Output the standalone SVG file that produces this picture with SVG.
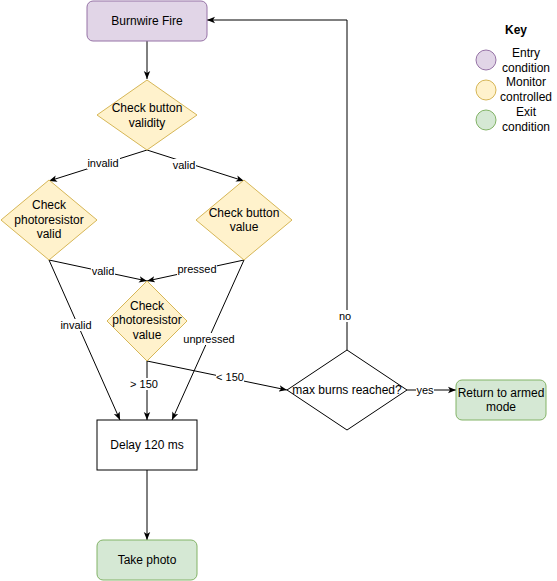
<svg xmlns="http://www.w3.org/2000/svg" width="557" height="581" viewBox="0 0 557 581">
<defs>
<marker id="arr" viewBox="0 0 10 10" refX="10" refY="5" markerWidth="8" markerHeight="8" markerUnits="userSpaceOnUse" orient="auto"><path d="M0,1 L10,5 L0,9 L2.5,5 z" fill="#000"/></marker>
<style>
text{font-family:"Liberation Sans",Arial,Helvetica,sans-serif;font-size:12px;fill:#000;text-anchor:middle}
.e{fill:none;stroke:#000;stroke-width:1;marker-end:url(#arr)}
.lbl{font-size:11px}
.bg{fill:#fff;stroke:none}
.pur{fill:#e1d5e7;stroke:#9673a6}
.yel{fill:#fff2cc;stroke:#d6b656}
.grn{fill:#d5e8d4;stroke:#82b366}
.plain{fill:#fff;stroke:#000}
</style>
</defs>
<rect width="557" height="581" fill="#fff"/>
<g id="connectors">
<path class="e" d="M147,41 L147,79"/>
<path class="e" d="M147,150 L49,181"/>
<path class="e" d="M147,150 L244,181"/>
<path class="e" d="M49,260 L147,281"/>
<path class="e" d="M244,260 L147,281"/>
<path class="e" d="M49,260 L120,420"/>
<path class="e" d="M244,260 L172,420"/>
<path class="e" d="M147,361 L147,420"/>
<path class="e" d="M147,361 L287,390"/>
<path class="e" d="M407,390 L456,390"/>
<path class="e" d="M347,350 L347,20 L207,20"/>
<path class="e" d="M147,470 L147,540"/>
<rect class="bg" x="87" y="157" width="33" height="12"/>
<rect class="bg" x="172" y="159" width="24" height="12"/>
<rect class="bg" x="91" y="265" width="24" height="12"/>
<rect class="bg" x="177" y="263" width="40" height="12"/>
<rect class="bg" x="60" y="319" width="33" height="12"/>
<rect class="bg" x="183" y="333" width="52" height="12"/>
<rect class="bg" x="130" y="378" width="28" height="12"/>
<rect class="bg" x="216" y="371" width="28" height="12"/>
<rect class="bg" x="338" y="310" width="14" height="12"/>
<rect class="bg" x="416" y="384" width="18" height="12"/>
<text class="lbl" x="103" y="167">invalid</text>
<text class="lbl" x="184" y="169">valid</text>
<text class="lbl" x="103" y="275">valid</text>
<text class="lbl" x="197" y="273">pressed</text>
<text class="lbl" x="76" y="329">invalid</text>
<text class="lbl" x="209" y="343">unpressed</text>
<text class="lbl" x="144" y="388">&gt; 150</text>
<text class="lbl" x="230" y="381">&lt; 150</text>
<text class="lbl" x="345" y="320">no</text>
<text class="lbl" x="425" y="394">yes</text>
</g>
<g id="burnwire">
<rect class="pur" x="87" y="1" width="120" height="40" rx="6"/>
<text x="147" y="25">Burnwire Fire</text>
</g>
<g id="check-validity">
<polygon class="yel" points="147,80 197,115 147,150 97,115"/>
<text x="147" y="112">Check button</text>
<text x="147" y="127">validity</text>
</g>
<g id="check-photo-valid">
<polygon class="yel" points="49,180 97,220 49,260 1,220"/>
<text x="49" y="209">Check</text>
<text x="49" y="224">photoresistor</text>
<text x="49" y="238">valid</text>
</g>
<g id="check-button-value">
<polygon class="yel" points="244,180 292,220 244,260 196,220"/>
<text x="244" y="217">Check button</text>
<text x="244" y="231">value</text>
</g>
<g id="check-photo-value">
<polygon class="yel" points="147,281 187,321 147,361 107,321"/>
<text x="147" y="310">Check</text>
<text x="147" y="324">photoresistor</text>
<text x="147" y="339">value</text>
</g>
<g id="max-burns">
<polygon fill="#fff" stroke="#000" points="347,350 407,390 347,430 287,390"/>
<text x="347" y="394">max burns reached?</text>
</g>
<g id="return-armed">
<rect class="grn" x="456" y="380" width="90" height="40" rx="6"/>
<text x="501" y="397">Return to armed</text>
<text x="501" y="411">mode</text>
</g>
<g id="delay">
<rect class="plain" x="97" y="420" width="100" height="50"/>
<text x="147" y="449">Delay 120 ms</text>
</g>
<g id="take-photo">
<rect class="grn" x="97" y="540" width="100" height="40" rx="6"/>
<text x="147" y="564">Take photo</text>
</g>
<g id="key">
<text x="516" y="34" style="font-weight:bold">Key</text>
<circle class="pur" cx="486" cy="60" r="10"/>
<circle class="yel" cx="486" cy="90" r="10"/>
<circle class="grn" cx="486" cy="120" r="10"/>
<text x="526" y="57">Entry</text>
<text x="526" y="72">condition</text>
<text x="526" y="86">Monitor</text>
<text x="526" y="101">controlled</text>
<text x="526" y="116">Exit</text>
<text x="526" y="131">condition</text>
</g>
</svg>
